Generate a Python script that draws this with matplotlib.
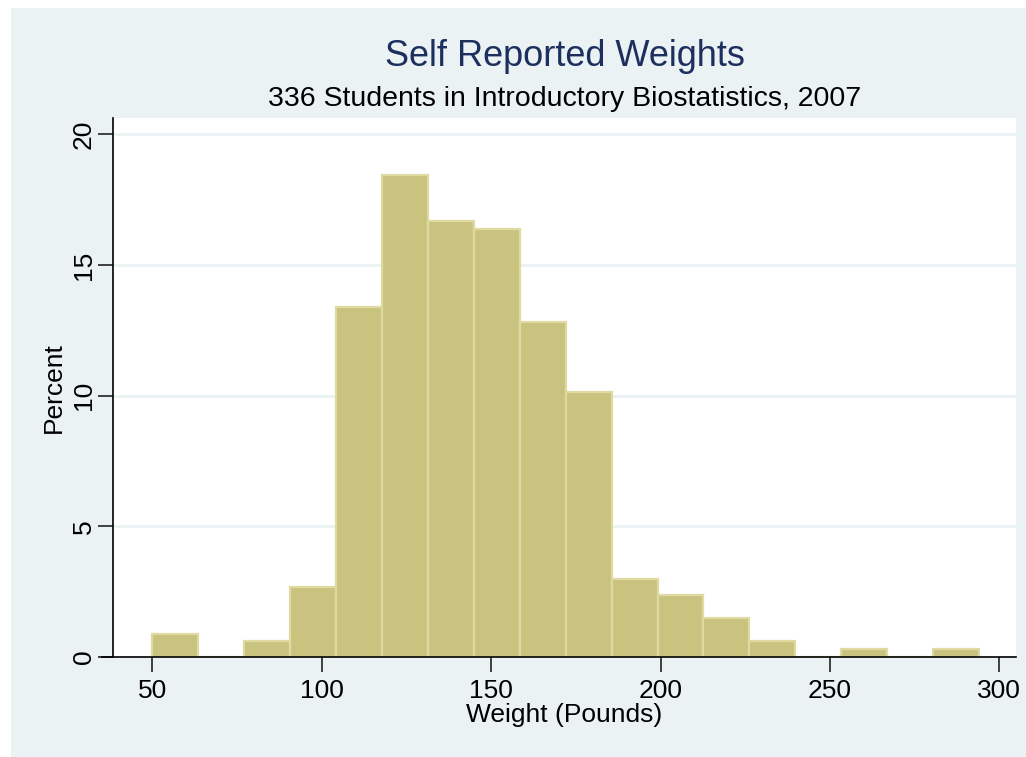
import numpy as np
import matplotlib
matplotlib.use("Agg")
import matplotlib.pyplot as plt
from matplotlib.patches import Rectangle

plt.rcParams['font.family'] = ['Liberation Sans', 'DejaVu Sans']

# Self reported weights, 336 students, histogram bins (Stata style)
bin_left = [50.0, 63.56, 77.11, 90.67, 104.22, 117.78, 131.33, 144.89, 158.44,
            172.0, 185.56, 199.11, 212.67, 226.22, 239.78, 253.33, 266.89, 280.44]
bin_width = 13.556
counts = [3, 0, 2, 9, 45, 62, 56, 55, 43, 34, 10, 8, 5, 2, 0, 1, 0, 1]
n_students = 336
percent = np.array(counts) / n_students * 100

xticks = [50, 100, 150, 200, 250, 300]
yticks = [0, 5, 10, 15, 20]

bg = "#EAF2F3"
fill = "#C9C37F"
edge = "#DEDAA2"

fig = plt.figure(figsize=(10.26, 7.57), dpi=100)
fig.patch.set_facecolor("white")
fig.patches.append(Rectangle((11 / 1026, 0), 1 - 11 / 1026, 1 - 8 / 757,
                             transform=fig.transFigure, facecolor=bg,
                             edgecolor="none", zorder=0))

ax = fig.add_axes([113 / 1026, 1 - 657 / 757, (1016 - 113) / 1026, (657 - 118) / 757])
ax.set_zorder(2)
ax.set_facecolor("white")

ax.bar(bin_left, percent, width=bin_width, align="edge", color=fill,
       edgecolor=edge, linewidth=1.6, zorder=3)

ax.set_xlim(38.4, 304.9)
ax.set_ylim(0, 20.62)
ax.set_xticks(xticks)
ax.set_yticks(yticks)
ax.set_yticklabels([str(t) for t in yticks], rotation=90, va="center")
ax.tick_params(axis="both", labelsize=19, length=11, width=1.2, color="#222222")
ax.tick_params(axis="x", pad=5)
ax.tick_params(axis="y", pad=1.5)

for t in yticks[1:]:
    ax.axhline(t, color=bg, lw=2, zorder=1)

for s in ["top", "right"]:
    ax.spines[s].set_visible(False)
ax.spines["left"].set_linewidth(1.2)
ax.spines["bottom"].set_visible(False)
ax.plot([-0.012, 1.0], [0, 0], transform=ax.get_yaxis_transform(),
        color="black", lw=1.2, clip_on=False, zorder=5)

ax.set_xlabel("Weight (Pounds)", fontsize=19, labelpad=0)
ax.set_ylabel("Percent", fontsize=19, labelpad=4)

fig.text(564.5 / 1026, 1 - 56 / 757, "Self Reported Weights", fontsize=26,
         color="#1C2F5E", ha="center", va="center")
fig.text(564.5 / 1026, 1 - 99 / 757, "336 Students in Introductory Biostatistics, 2007",
         fontsize=20.5, color="black", ha="center", va="center")

fig.savefig("out.png", dpi=100)
